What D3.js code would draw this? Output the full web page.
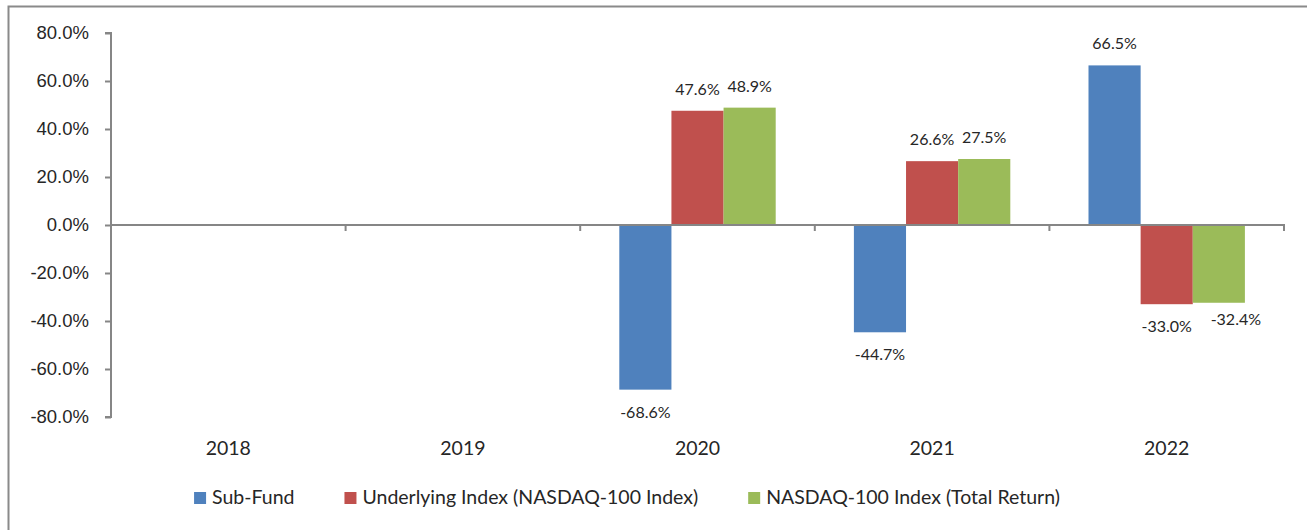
<!DOCTYPE html>
<html>
<head>
    <meta charset="utf-8"/>
    <script src="https://d3js.org/d3.v7.min.js"></script>
    <style>
        body { margin: 0; background: #ffffff; }
        svg { display: block; font-family: Lato, "Open Sans", sans-serif; }
        .axisY path, .axisY line, .axisX path, .axisX line { stroke: #868686; }
        .axisY text, .axisX text { fill: #262626; }
    </style>
</head>
<body>
<svg id="chart" width="1307" height="530"></svg>
<script>

var years = ["2018", "2019", "2020", "2021", "2022"];
var seriesNames = ["Sub-Fund", "Underlying Index (NASDAQ-100 Index)", "NASDAQ-100 Index (Total Return)"];
var seriesColors = ["#4f81bd", "#c0504d", "#9bbb59"];
var subFund = [null, null, -68.6, -44.7, 66.5];
var underlying = [null, null, 47.6, 26.6, -33.0];
var totalReturn = [null, null, 48.9, 27.5, -32.4];
var yTicks = [-80, -60, -40, -20, 0, 20, 40, 60, 80];

var series = [subFund, underlying, totalReturn];

var svg = d3.select("#chart");

// outer chart frame (only top + left edges fall inside the picture)
svg.append("rect")
    .attr("x", 8.5).attr("y", 6.5)
    .attr("width", 1320).attr("height", 540)
    .attr("fill", "none").attr("stroke", "#8a8a8a").attr("stroke-width", 2);

var plotLeft = 111, plotRight = 1284, plotTop = 33, plotBottom = 417;

var x = d3.scaleBand().domain(years).range([plotLeft, plotRight]).paddingInner(0).paddingOuter(0);
var y = d3.scaleLinear().domain([-80, 80]).range([plotBottom, plotTop]);

// 150% gap width like the spreadsheet default
var barW = x.bandwidth() / (series.length + 1.5);
var xs = d3.scaleBand().domain(d3.range(series.length))
    .range([barW * 0.75, barW * 0.75 + barW * series.length]);

// y axis
var axY = d3.axisLeft(y).tickValues(yTicks).tickSize(6).tickPadding(16)
    .tickFormat(function (d) { return d.toFixed(1) + "%"; });
svg.append("g").attr("class", "axisY")
    .attr("transform", "translate(" + plotLeft + ",0)")
    .call(axY)
    .call(function (g) { g.select(".domain").attr("d", "M-6," + plotTop + "H0V" + plotBottom + "H-6"); })
    .selectAll("text").attr("font-size", 18.5);
svg.selectAll(".axisY line").attr("stroke-width", 2);
svg.select(".axisY .domain").attr("stroke-width", 2);

// bars
series.forEach(function (vals, si) {
    svg.append("g").selectAll("rect")
        .data(years.map(function (yr, i) { return { yr: yr, v: vals[i] }; }).filter(function (d) { return d.v !== null; }))
        .enter().append("rect")
        .attr("x", function (d) { return x(d.yr) + xs(si); })
        .attr("width", xs.bandwidth())
        .attr("y", function (d) { return y(Math.max(0, d.v)); })
        .attr("height", function (d) { return Math.abs(y(d.v) - y(0)); })
        .attr("fill", seriesColors[si]);
});

// x axis on zero line
var axX = d3.axisBottom(x).tickSize(0).tickFormat("");
svg.append("g").attr("class", "axisX")
    .attr("transform", "translate(0," + y(0) + ")")
    .call(axX)
    .call(function (g) { g.select(".domain").attr("d", "M" + plotLeft + ",0H" + plotRight + "V6").attr("stroke-width", 2); });
svg.select(".axisX").selectAll("line.sep")
    .data(years.slice(1))
    .enter().append("line").attr("class", "sep")
    .attr("x1", function (d) { return x(d); }).attr("x2", function (d) { return x(d); })
    .attr("y1", 0).attr("y2", 6).attr("stroke", "#868686").attr("stroke-width", 2);

// category labels below plot
svg.append("g").selectAll("text")
    .data(years).enter().append("text")
    .attr("x", function (d) { return x(d) + x.bandwidth() / 2; })
    .attr("y", 455)
    .attr("text-anchor", "middle")
    .attr("font-size", 19.5).attr("fill", "#262626")
    .text(function (d) { return d; });

// data labels
var labelNodes = {};
series.forEach(function (vals, si) {
    svg.append("g").selectAll("text")
        .data(years.map(function (yr, i) { return { yr: yr, v: vals[i] }; }).filter(function (d) { return d.v !== null; }))
        .enter().append("text")
        .attr("x", function (d) { return x(d.yr) + xs(si) + xs.bandwidth() / 2; })
        .attr("y", function (d) { return d.v >= 0 ? y(d.v) - 16 : y(d.v) + 28; })
        .attr("text-anchor", "middle")
        .attr("font-size", 16).attr("fill", "#262626")
        .text(function (d) { return d.v.toFixed(1) + "%"; })
        .each(function (d) {
            // nudge a label that collides with its left neighbour, like the spreadsheet does
            var prev = labelNodes[d.yr];
            if (prev) {
                var a = prev.getBBox(), b = this.getBBox();
                var overlapY = !(b.y > a.y + a.height || a.y > b.y + b.height);
                if (overlapY && b.x - (a.x + a.width) < 3) {
                    d3.select(this)
                        .attr("x", +d3.select(this).attr("x") + 17)
                        .attr("y", +d3.select(this).attr("y") - 6);
                }
            }
            labelNodes[d.yr] = this;
        });
});

// legend
var legend = svg.append("g");
var items = legend.selectAll("g").data(seriesNames).enter().append("g");
items.append("rect").attr("width", 12).attr("height", 12).attr("y", -12)
    .attr("fill", function (d, i) { return seriesColors[i]; });
items.append("text").attr("x", 18).attr("y", 0)
    .attr("font-size", 19.5).attr("fill", "#262626")
    .text(function (d) { return d; });
var gap = 50;
var pos = 0;
items.each(function () {
    var w = this.getBBox().width;
    d3.select(this).attr("data-off", pos);
    pos += w + gap;
});
var total = pos - gap;
var startX = 627 - total / 2;
items.attr("transform", function () {
    return "translate(" + (startX + (+d3.select(this).attr("data-off"))) + ",504)";
});

</script>
</body>
</html>
